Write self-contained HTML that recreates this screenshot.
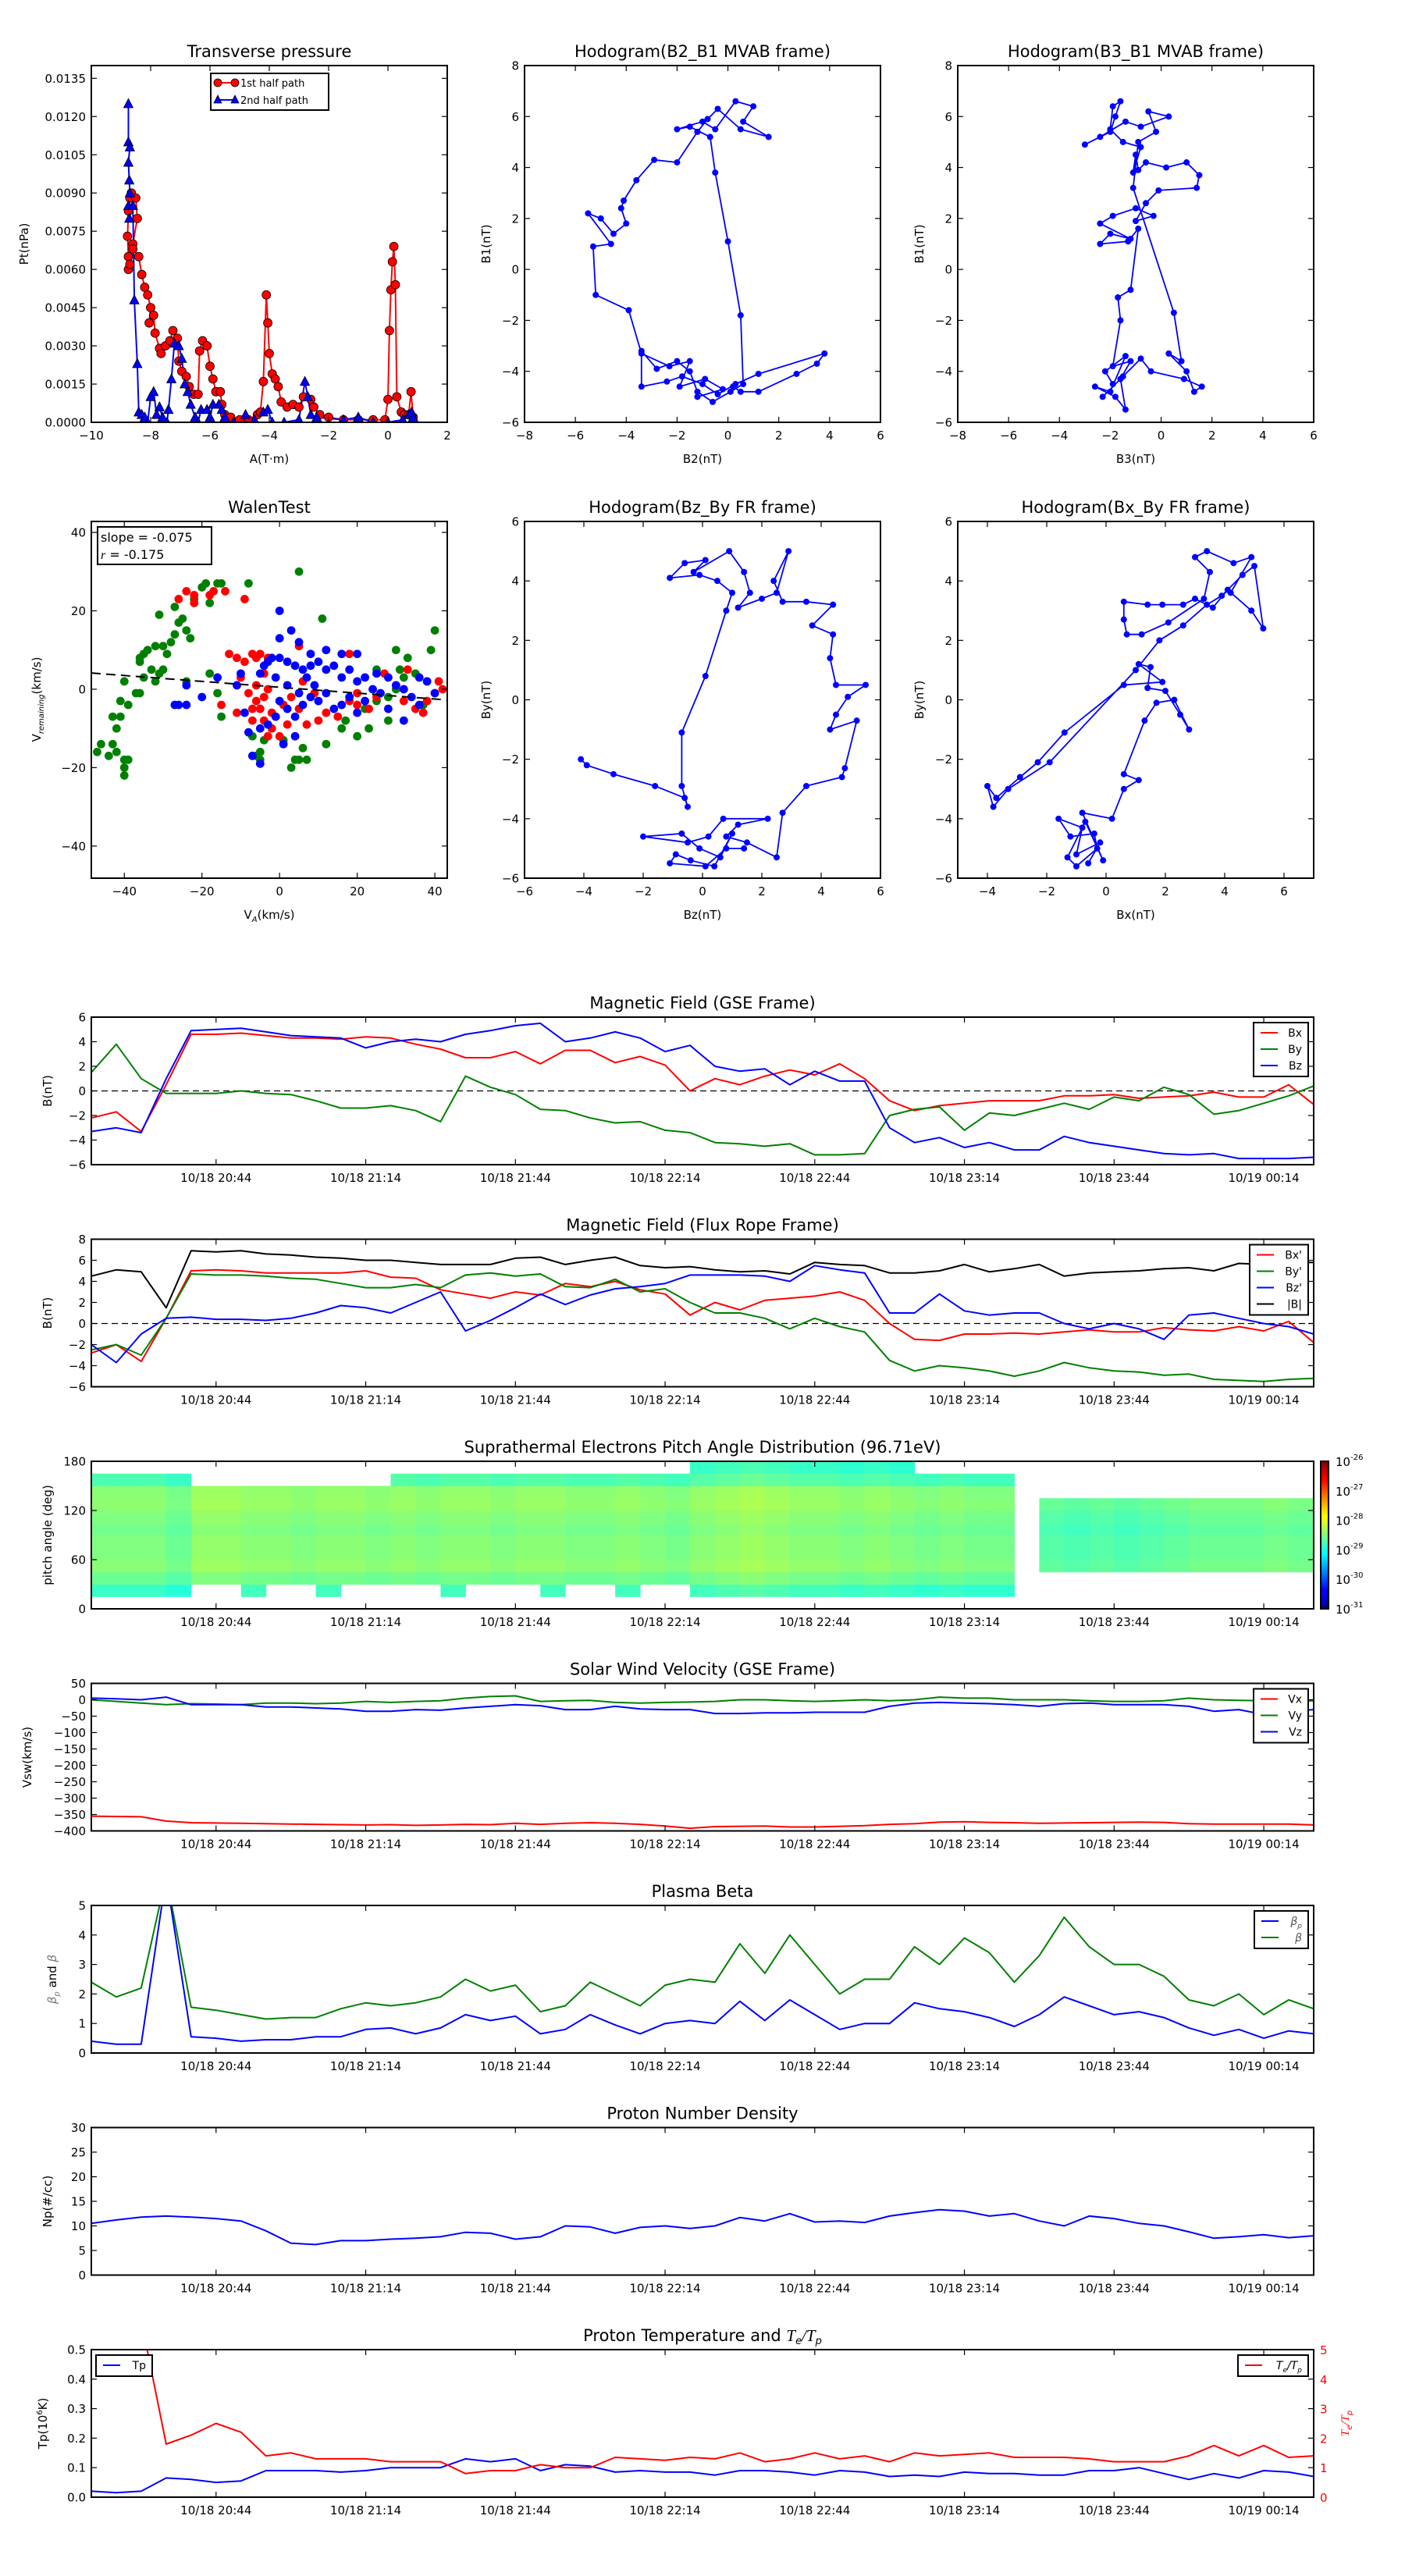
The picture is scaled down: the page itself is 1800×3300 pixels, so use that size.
<!DOCTYPE html>
<html><head><meta charset="utf-8"><title>Flux rope analysis figure</title>
<style>
html,body{margin:0;padding:0;background:#fff;}
svg{display:block;font-family:"DejaVu Sans","Liberation Sans",sans-serif;}
</style></head>
<body>
<svg id="fig" xmlns="http://www.w3.org/2000/svg" width="1800" height="3300" viewBox="0 0 1800 3300">
<defs>
<linearGradient id="jet" x1="0" y1="1" x2="0" y2="0">
<stop offset="0" stop-color="#00007f"/><stop offset="0.11" stop-color="#0000ff"/><stop offset="0.125" stop-color="#0000ff"/>
<stop offset="0.34" stop-color="#00dcff"/><stop offset="0.375" stop-color="#00ffff"/><stop offset="0.5" stop-color="#80ff80"/>
<stop offset="0.625" stop-color="#ffff00"/><stop offset="0.66" stop-color="#ffe000"/><stop offset="0.875" stop-color="#ff0000"/><stop offset="1" stop-color="#7f0000"/>
</linearGradient>
</defs>
<rect x="0" y="0" width="1800" height="3300" fill="#fff"/>
</svg>
<script>
// ---------------- DATA ----------------
const tMin = [0,5,10,15,20,25,30,35,40,45,50,55,60,65,70,75,80,85,90,95,100,105,110,115,120,125,130,135,140,145,150,155,160,165,170,175,180,185,190,195,200,205,210,215,220,225,230,235,240,245];
const timeTicks = [25,55,85,115,145,175,205,235];
const timeTickLabels = ['10/18 20:44','10/18 21:14','10/18 21:44','10/18 22:14','10/18 22:44','10/18 23:14','10/18 23:44','10/19 00:14'];

const gseBx = [-2.2,-1.7,-3.3,0.5,4.6,4.6,4.7,4.5,4.3,4.3,4.2,4.4,4.3,3.8,3.4,2.7,2.7,3.2,2.2,3.3,3.3,2.3,2.8,2.1,0,1.0,0.5,1.2,1.7,1.3,2.2,1.0,-0.8,-1.6,-1.2,-1.0,-0.8,-0.8,-0.8,-0.4,-0.4,-0.3,-0.6,-0.5,-0.4,-0.1,-0.5,-0.5,0.5,-1.1];
const gseBy = [1.5,3.8,1.0,-0.2,-0.2,-0.2,0,-0.2,-0.3,-0.8,-1.4,-1.4,-1.2,-1.6,-2.5,1.2,0.3,-0.3,-1.5,-1.6,-2.2,-2.6,-2.5,-3.2,-3.4,-4.2,-4.3,-4.5,-4.3,-5.2,-5.2,-5.1,-2.0,-1.5,-1.3,-3.2,-1.8,-2.0,-1.5,-1.0,-1.5,-0.5,-0.8,0.3,-0.3,-1.9,-1.6,-1.0,-0.4,0.4];
const gseBz = [-3.3,-3.0,-3.4,1.0,4.9,5.0,5.1,4.8,4.5,4.4,4.3,3.5,4.0,4.2,4.0,4.6,4.9,5.3,5.5,4.0,4.3,4.8,4.3,3.2,3.7,2.0,1.6,1.8,0.5,1.6,0.8,0.8,-3.0,-4.2,-3.8,-4.6,-4.2,-4.8,-4.8,-3.7,-4.2,-4.5,-4.8,-5.1,-5.2,-5.1,-5.5,-5.5,-5.5,-5.4];

const frBx = [-2.8,-2.0,-3.6,0.5,5.0,5.1,5.0,4.8,4.8,4.8,4.8,5.0,4.4,4.3,3.2,2.8,2.4,3.0,2.7,3.8,3.5,4.0,3.2,2.8,0.8,2.0,1.3,2.2,2.4,2.6,3.0,2.2,0.0,-1.5,-1.6,-1.0,-1.0,-0.9,-1.0,-0.8,-0.6,-0.8,-0.8,-0.4,-0.6,-0.7,-0.3,-0.7,0.2,-1.8];
const frBy = [-2.5,-2.0,-3.0,0.5,4.7,4.6,4.6,4.5,4.3,4.2,3.8,3.4,3.4,3.7,3.4,4.6,4.8,4.5,4.7,3.5,3.4,4.2,3.0,3.3,2.0,1.0,1.0,0.5,-0.5,0.5,-0.3,-0.8,-3.5,-4.5,-4.0,-4.2,-4.5,-5.0,-4.5,-3.7,-4.2,-4.5,-4.6,-4.9,-4.8,-5.3,-5.4,-5.5,-5.3,-5.2];
const frBz = [-2.0,-3.7,-1.0,0.5,0.6,0.4,0.4,0.3,0.5,1.0,1.7,1.5,1.0,2.0,3.0,-0.7,0.3,1.5,2.8,1.8,2.7,3.3,3.5,3.8,4.6,4.6,4.6,4.5,4.0,5.5,5.1,4.8,1.0,1.0,2.8,1.2,0.8,1.0,1.0,0.0,-0.5,0.0,-0.5,-1.5,0.8,1.0,0.5,0.0,-0.3,-1.0];
const frBt = [4.5,5.1,4.9,1.5,6.9,6.8,6.9,6.6,6.5,6.3,6.2,6.0,6.0,5.8,5.6,5.6,5.6,6.2,6.3,5.6,6.0,6.3,5.5,5.3,5.4,5.1,4.9,5.0,4.7,5.8,5.6,5.5,4.8,4.8,5.0,5.6,4.9,5.2,5.6,4.5,4.8,4.9,5.0,5.2,5.3,5.0,5.7,5.6,5.8,5.8];

const padTop = [172,172,172,165,150,150,155,150,150,155,150,150,158,158,160,158,158,158,160,158,158,162,158,158,175,175,175,175,175,175,175,175,175,172,172,172,170,0,135,135,135,135,135,135,135,135,135,135,135,135];
const padBot = [8,8,8,15,25,25,22,25,25,22,25,25,25,25,22,25,25,25,22,25,25,20,25,25,10,10,10,8,10,10,8,10,10,12,12,15,15,0,45,45,45,50,45,45,45,50,45,45,45,45];
const padLevel = [-28.5,-28.5,-28.5,-28.6,-28.4,-28.4,-28.45,-28.45,-28.5,-28.45,-28.45,-28.5,-28.45,-28.5,-28.45,-28.45,-28.5,-28.45,-28.45,-28.5,-28.5,-28.45,-28.5,-28.55,-28.45,-28.4,-28.35,-28.4,-28.45,-28.45,-28.5,-28.45,-28.5,-28.55,-28.5,-28.55,-28.55,-28.55,-28.7,-28.75,-28.7,-28.75,-28.7,-28.65,-28.6,-28.6,-28.6,-28.55,-28.6,-28.6];
const padRowOffset = [-0.5,-0.35,-0.1,0.05,0,0,-0.05,0,0.08,0.05,-0.25,-0.4];

const vx = [-355,-356,-357,-370,-375,-376,-377,-378,-379,-380,-381,-382,-381,-383,-382,-380,-381,-377,-380,-377,-375,-377,-380,-385,-392,-387,-386,-385,-388,-388,-386,-384,-380,-378,-373,-372,-374,-375,-377,-376,-375,-374,-373,-374,-378,-379,-379,-379,-379,-382];
const vy = [0,-5,-10,-15,-12,-13,-15,-10,-10,-12,-10,-5,-8,-5,-3,5,10,12,-5,-3,-2,-8,-10,-8,-7,-5,0,0,-3,-5,-3,0,-3,0,8,5,5,0,0,0,-3,-5,-5,-3,5,0,-2,-3,-5,-3];
const vz = [5,3,0,8,-15,-15,-15,-22,-22,-25,-28,-35,-35,-30,-32,-25,-20,-15,-18,-30,-30,-20,-28,-30,-30,-42,-42,-40,-40,-38,-38,-38,-20,-10,-8,-10,-12,-15,-20,-12,-10,-15,-15,-15,-20,-35,-30,-45,-35,-30];

const betaP = [0.4,0.3,0.3,6,0.55,0.5,0.4,0.45,0.45,0.55,0.55,0.8,0.85,0.65,0.85,1.3,1.1,1.25,0.65,0.8,1.3,0.95,0.65,1.0,1.1,1.0,1.75,1.1,1.8,1.3,0.8,1.0,1.0,1.7,1.5,1.4,1.2,0.9,1.3,1.9,1.6,1.3,1.4,1.2,0.85,0.6,0.8,0.5,0.75,0.65];
const betaT = [2.4,1.9,2.2,6,1.55,1.45,1.3,1.15,1.2,1.2,1.5,1.7,1.6,1.7,1.9,2.5,2.1,2.3,1.4,1.6,2.4,2.0,1.6,2.3,2.5,2.4,3.7,2.7,4.0,3.0,2.0,2.5,2.5,3.6,3.0,3.9,3.4,2.4,3.3,4.6,3.6,3.0,3.0,2.6,1.8,1.6,2.0,1.3,1.8,1.5];

const np = [10.5,11.2,11.8,12.0,11.8,11.5,11.0,9.0,6.5,6.2,7.0,7.0,7.3,7.5,7.8,8.7,8.5,7.3,7.8,10.0,9.8,8.5,9.7,10.0,9.5,10.0,11.7,11.0,12.5,10.8,11.0,10.7,12.0,12.7,13.3,13.0,12.0,12.5,11.0,10.0,12.0,11.5,10.5,10.0,8.8,7.5,7.8,8.2,7.6,8.0];

const tp = [0.02,0.015,0.02,0.065,0.06,0.05,0.055,0.09,0.09,0.09,0.085,0.09,0.1,0.1,0.1,0.13,0.12,0.13,0.09,0.11,0.105,0.085,0.09,0.085,0.085,0.075,0.09,0.09,0.085,0.075,0.09,0.085,0.07,0.075,0.07,0.085,0.08,0.08,0.075,0.075,0.09,0.09,0.1,0.08,0.06,0.08,0.065,0.09,0.085,0.07];
const teTp = [null,null,6,1.8,2.1,2.5,2.2,1.4,1.5,1.3,1.3,1.3,1.2,1.2,1.2,0.8,0.9,0.9,1.1,1.0,1.0,1.35,1.3,1.25,1.35,1.3,1.5,1.2,1.3,1.5,1.3,1.4,1.2,1.5,1.4,1.45,1.5,1.35,1.35,1.35,1.3,1.2,1.2,1.2,1.4,1.75,1.4,1.75,1.35,1.4];

const tpFirstHalf = [[-8.75,0.0065],[-8.78,0.0073],[-8.75,0.0083],[-8.7,0.0088],[-8.65,0.009],[-8.5,0.0088],[-8.45,0.008],[-8.6,0.007],[-8.75,0.006],[-8.7,0.0062],[-8.6,0.0068],[-8.4,0.0065],[-8.3,0.0058],[-8.2,0.0053],[-8.1,0.005],[-8.0,0.0045],[-8.05,0.0039],[-7.9,0.0042],[-7.85,0.0035],[-7.7,0.0029],[-7.65,0.0027],[-7.5,0.003],[-7.35,0.0032],[-7.25,0.0036],[-7.1,0.0033],[-7.05,0.0024],[-6.95,0.002],[-6.8,0.0018],[-6.7,0.0014],[-6.55,0.0011],[-6.4,0.0011],[-6.35,0.0028],[-6.25,0.0032],[-6.1,0.003],[-6.0,0.0022],[-5.9,0.0017],[-5.8,0.0012],[-5.65,0.0012],[-5.6,0.0007],[-5.5,0.0003],[-5.3,0.0002],[-5.0,0.0001],[-4.7,0.0001],[-4.4,0.0003],[-4.3,0.0004],[-4.2,0.0016],[-4.1,0.005],[-4.05,0.0039],[-4.0,0.0027],[-3.9,0.0019],[-3.8,0.0017],[-3.7,0.0014],[-3.6,0.0008],[-3.4,0.0006],[-3.2,0.0007],[-3.0,0.0006],[-2.85,0.001],[-2.6,0.0009],[-2.5,0.0006],[-2.3,0.0003],[-2.0,0.0002],[-1.5,0.0001],[-1.0,0.0001],[-0.5,0.0001],[-0.1,0.0001],[0.0,0.0009],[0.05,0.0036],[0.1,0.0052],[0.15,0.0063],[0.2,0.0069],[0.25,0.0054],[0.3,0.001],[0.45,0.0004],[0.55,0.0003],[0.7,0.0003],[0.78,0.0012],[0.85,0.0002]];
const tpSecondHalf = [[-8.75,0.0125],[-8.75,0.011],[-8.7,0.0108],[-8.75,0.0102],[-8.72,0.0095],[-8.7,0.009],[-8.75,0.0085],[-8.72,0.008],[-8.6,0.0085],[-8.55,0.0048],[-8.45,0.0023],[-8.4,0.0004],[-8.3,0.0003],[-8.2,0.0002],[-8.1,0.0],[-8.0,0.001],[-7.9,0.0012],[-7.8,0.0003],[-7.7,0.0006],[-7.6,0.0002],[-7.45,0.0],[-7.4,0.0005],[-7.3,0.0017],[-7.2,0.0031],[-7.05,0.003],[-6.95,0.0025],[-6.85,0.0015],[-6.75,0.0012],[-6.65,0.0007],[-6.5,0.0002],[-6.4,0.0],[-6.3,0.0005],[-6.1,0.0005],[-6.0,0.0002],[-5.9,0.0007],[-5.7,0.0007],[-5.6,0.0005],[-5.5,0.0002],[-5.2,0.0],[-4.8,0.0003],[-4.5,0.0001],[-4.2,0.0004],[-4.05,0.0005],[-3.9,0.0],[-3.5,0.0],[-3.0,0.0001],[-2.8,0.0016],[-2.7,0.001],[-2.6,0.0003],[-2.4,0.0002],[-1.5,0.0001],[-1.0,0.0002],[-0.5,0.0],[0.0,0.0],[0.5,0.0001],[0.7,0.0003],[0.8,0.0004],[0.85,0.0002]];

const hodoB2B1 = [[0.2,-4.6],[0.5,-4.8],[1.2,-4.8],[2.7,-4.1],[3.5,-3.7],[3.8,-3.3],[1.2,-4.1],[0.3,-4.5],[-0.4,-4.9],[-1.0,-4.5],[-1.8,-4.2],[-2.4,-4.4],[-3.4,-4.6],[-3.4,-3.2],[-2.8,-3.9],[-2.0,-3.6],[-1.5,-4.0],[-1.2,-4.8],[-0.6,-5.2],[0.1,-4.8],[0.6,-4.5],[0.5,-1.8],[0.0,1.1],[-0.5,3.8],[-0.7,5.2],[-1.5,5.6],[-2.0,5.5],[-1.0,5.8],[-0.5,5.5],[0.3,6.6],[1.0,6.4],[0.6,5.8],[1.6,5.2],[0.5,5.5],[-0.4,6.3],[-0.8,5.9],[-1.2,5.4],[-2.0,4.2],[-2.9,4.3],[-3.6,3.5],[-4.1,2.7],[-4.2,2.4],[-4.0,1.8],[-4.5,1.4],[-5.0,2.0],[-5.5,2.2],[-4.6,1.0],[-5.3,0.9],[-5.2,-1.0],[-3.9,-1.6],[-3.4,-3.3],[-2.3,-3.8],[-1.5,-3.6],[-1.9,-4.6],[-0.9,-4.3],[-0.2,-4.7],[-1.2,-5.0]];
const hodoB3B1 = [[-1.9,-4.5],[-2.2,-4.0],[-1.4,-3.4],[-2.0,-4.8],[-2.6,-4.6],[-1.8,-5.0],[-1.4,-5.5],[-1.6,-4.3],[-1.2,-3.6],[-1.9,-3.8],[-1.6,-2.0],[-1.7,-1.1],[-1.2,-0.8],[-0.9,1.6],[-1.3,1.1],[-2.4,1.0],[-2.0,1.4],[-1.2,1.2],[-2.4,1.8],[-1.9,2.1],[-1.0,2.4],[-0.3,2.1],[-1.0,1.9],[-0.6,2.6],[-0.1,3.1],[1.4,3.2],[1.5,3.7],[1.0,4.2],[0.2,4.0],[-0.6,4.2],[-0.9,3.9],[-1.0,4.5],[-1.1,3.8],[-0.8,4.8],[-1.5,5.0],[-2.0,5.5],[-1.9,6.4],[-1.6,6.6],[-1.8,6.0],[-2.0,5.4],[-3.0,4.9],[-2.4,5.2],[-1.4,5.8],[-0.8,5.6],[0.3,6.0],[-0.5,6.2],[-0.2,5.4],[-0.9,5.0],[-1.1,3.2],[0.5,-1.7],[0.8,-3.6],[0.3,-3.3],[1.0,-4.0],[1.3,-4.8],[1.6,-4.6],[0.9,-4.3],[-0.4,-4.0],[-0.8,-3.5],[-1.5,-4.2],[-2.3,-5.0]];
const hodoBzBy = [[-4.1,-2.0],[-3.9,-2.2],[-3.0,-2.5],[-1.6,-2.9],[-0.6,-3.3],[-0.5,-3.6],[-0.7,-2.9],[-0.7,-1.1],[0.1,0.8],[0.8,3.0],[1.0,3.6],[0.5,4.0],[-0.1,4.2],[-1.1,4.1],[-0.6,4.6],[0.1,4.7],[-0.3,4.3],[0.9,5.0],[1.4,4.3],[1.6,3.6],[1.2,3.1],[2.0,3.4],[2.5,3.6],[2.9,5.0],[2.4,4.0],[2.7,3.3],[3.5,3.3],[4.4,3.2],[3.7,2.5],[4.4,2.2],[4.3,1.4],[4.5,0.5],[5.5,0.5],[4.9,0.1],[4.5,-0.5],[4.3,-1.0],[5.2,-0.7],[4.8,-2.3],[4.7,-2.6],[3.5,-2.9],[2.7,-3.8],[2.5,-5.3],[1.5,-4.8],[0.8,-4.6],[1.2,-4.2],[2.2,-4.0],[0.7,-4.0],[0.2,-4.6],[-0.5,-4.8],[-2.0,-4.6],[-0.7,-4.5],[-0.1,-5.0],[0.6,-5.3],[1.0,-4.5],[0.4,-5.6],[-0.4,-5.4],[-0.9,-5.2],[-1.1,-5.5],[0.1,-5.6],[0.8,-5.0],[1.4,-5.0]];
const hodoBxBy = [[-0.6,-5.5],[-0.2,-4.8],[-1.0,-5.2],[-0.8,-4.3],[-1.6,-4.0],[-1.2,-4.6],[-0.4,-4.5],[-0.3,-5.0],[-1.0,-5.6],[-1.3,-5.3],[-0.7,-4.1],[-0.1,-5.4],[-0.8,-3.8],[0.2,-4.0],[0.6,-3.0],[1.1,-2.7],[0.6,-2.5],[1.3,-0.7],[1.7,-0.1],[2.3,0.0],[2.8,-1.0],[2.5,-0.5],[2.0,0.3],[1.4,0.4],[1.5,1.1],[1.1,1.2],[1.9,0.6],[0.6,0.5],[-1.4,-1.1],[-2.3,-2.1],[-2.9,-2.6],[-3.7,-3.3],[-4.0,-2.9],[-3.8,-3.6],[-3.3,-3.0],[-1.9,-2.1],[1.0,1.0],[1.8,2.0],[2.6,2.5],[3.4,3.2],[3.9,3.5],[4.6,4.2],[5.0,4.5],[5.3,2.4],[4.9,3.0],[4.1,3.7],[3.6,3.1],[3.0,3.4],[2.6,3.2],[1.9,3.2],[1.4,3.2],[0.6,3.3],[0.6,2.7],[0.7,2.2],[1.2,2.2],[2.1,2.6],[3.3,3.4],[3.5,4.3],[3.0,4.8],[3.4,5.0],[4.3,4.6],[4.9,4.8],[4.2,3.6]];

const walenGreen = [[-47,-16],[-46,-14],[-44,-17],[-43,-14],[-42,-16],[-43,-7],[-42,-10],[-41,-7],[-40,-20],[-40,-18],[-40,-22],[-39,-18],[-41,-3],[-39,-4],[-40,2],[-37,-1],[-36,-1],[-35,3],[-33,5],[-32,2],[-31,4],[-30,5],[-36,8],[-36,7],[-35,9],[-34,10],[-32,11],[-30,11],[-29,9],[-28,12],[-27,14],[-26,17],[-25,18],[-24,15],[-23,13],[-31,19],[-27,21],[-24,2],[-22,23],[-20,26],[-19,27],[-18,22],[-16,27],[-15,27],[-8,27],[-18,4],[-16,-1],[-15,-7],[-7,-12],[-5,-16],[-5,-18],[-4,-13],[1,-13],[3,-20],[5,-18],[7,-18],[12,-14],[16,-10],[20,-12],[22,-5],[25,-3],[28,-2],[30,0],[31,5],[33,8],[35,4],[38,2],[39,10],[40,15],[30,10],[32,3],[37,-4],[23,-10],[17,-8],[-2,-10],[-6,-17],[11,18],[5,30],[6,-15],[4,-18],[25,5],[28,-8]];
const walenRed = [[-26,23],[-24,25],[-22,24],[-22,22],[-18,24],[-17,25],[-14,25],[-9,23],[-13,9],[-11,8],[-9,7],[-7,9],[-6,8],[-5,9],[-3,8],[-10,3],[-8,-1],[-6,-3],[-5,-5],[-4,-2],[-3,0],[-2,-6],[-6,1],[-4,4],[-15,-4],[-11,-6],[-7,-5],[-4,-8],[-2,-10],[0,-12],[2,-9],[5,-5],[7,-9],[10,-8],[12,-6],[15,-7],[18,-3],[20,-1],[23,-5],[25,-2],[27,4],[30,1],[32,-3],[35,-5],[38,-3],[40,-1],[41,2],[42,0],[37,-6],[33,5],[-1,-7],[1,-4],[3,-2],[6,2],[9,-1],[-7,-8],[-3,-12],[18,9],[5,11],[20,-4]];
const walenBlue = [[-27,-4],[-26,-4],[-24,-4],[-24,1],[-20,-2],[-16,3],[-10,4],[-11,1],[-9,-6],[-8,-11],[-7,-17],[-5,-19],[-5,4],[-4,6],[-3,7],[-2,8],[0,8],[2,7],[4,6],[6,5],[8,6],[10,7],[12,5],[14,6],[16,3],[18,5],[20,2],[22,3],[24,0],[26,-1],[28,3],[30,1],[32,0],[34,-2],[36,-4],[38,2],[40,-1],[-5,-10],[-3,-9],[-1,-7],[0,-3],[2,-5],[4,-7],[6,-4],[8,-2],[10,-3],[12,-1],[14,-5],[16,-4],[18,-2],[20,-6],[22,-3],[0,20],[0,13],[3,15],[5,12],[8,9],[12,10],[16,9],[20,9],[25,4],[28,-5],[32,-8],[36,3],[-1,3],[2,1],[5,-1],[7,3],[9,1],[1,-14],[4,-12]];
const walenFit = [-0.075, 0.5];

// ---------------- DRAWING ----------------
const NS = 'http://www.w3.org/2000/svg';
const svg = document.getElementById('fig');
const defs = svg.querySelector('defs');
const MINUS = '\u2212';
function mk(tag, attrs, parent) {
  const e = document.createElementNS(NS, tag);
  for (const k in attrs) e.setAttribute(k, attrs[k]);
  (parent || svg).appendChild(e);
  return e;
}
function fmt(v, d) {
  const s = v.toFixed(d);
  return s.charAt(0) === '-' ? MINUS + s.slice(1) : s;
}
function txt(x, y, s, size, anchor, parent, color) {
  const t = mk('text', {x: x, y: y, 'font-size': size, 'text-anchor': anchor || 'middle', fill: color || '#000'}, parent);
  t.textContent = s;
  return t;
}

function makeAxes(o) {
  const g = mk('g', {});
  
  
  const sx = v => o.x + (v - o.xmin) / (o.xmax - o.xmin) * o.w;
  const sy = v => o.y + o.h - (v - o.ymin) / (o.ymax - o.ymin) * o.h;
  const cp = mk('clipPath', {id: 'clip-' + o.name}, defs);
  mk('rect', {x: o.x, y: o.y, width: o.w, height: o.h}, cp);
  const plot = mk('g', {'clip-path': 'url(#clip-' + o.name + ')'}, g);
  
  
  const deco = mk('g', {}, g);
  const fr = mk('rect', {x: o.x, y: o.y, width: o.w, height: o.h, fill: 'none', stroke: '#000', 'stroke-width': 2}, deco);
  
  
  const xt = mk('g', {}, deco);
  
  
  o.xticks.forEach((v, i) => {
    const px = sx(v);
    mk('line', {x1: px, x2: px, y1: o.y + o.h, y2: o.y + o.h - 7, stroke: '#000', 'stroke-width': 1.2}, xt);
    mk('line', {x1: px, x2: px, y1: o.y, y2: o.y + 7, stroke: '#000', 'stroke-width': 1.2}, xt);
    const lab = txt(px, o.y + o.h + 22, o.xlabels[i], 15, 'middle', xt);
    
    
  });
  const yt = mk('g', {}, deco);
  
  
  o.yticks.forEach((v, i) => {
    const py = sy(v);
    mk('line', {x1: o.x, x2: o.x + 7, y1: py, y2: py, stroke: '#000', 'stroke-width': 1.2}, yt);
    mk('line', {x1: o.x + o.w, x2: o.x + o.w - 7, y1: py, y2: py, stroke: '#000', 'stroke-width': 1.2}, yt);
    const lab = txt(o.x - 7, py + 5.5, o.ylabels[i], 15, 'end', yt);
    
    
  });
  if (o.title) {
    const t = txt(o.x + o.w / 2, o.y - 11, o.title, 21, 'middle', deco);
    
    
  }
  if (o.xtitle) {
    const t = txt(o.x + o.w / 2, o.y + o.h + 52, o.xtitle, 15, 'middle', deco);
    
    
  }
  if (o.ytitle) {
    const t = txt(0, 0, o.ytitle, 15, 'middle', deco);
    t.setAttribute('transform', 'translate(' + o.ytx + ',' + (o.y + o.h / 2) + ') rotate(-90)');
    
    
  }
  return {g: g, plot: plot, deco: deco, sx: sx, sy: sy, o: o};
}

function seriesLine(ax, xs, ys, color, nm, width) {
  let d = '', pen = false;
  for (let i = 0; i < xs.length; i++) {
    if (ys[i] === null) { pen = false; continue; }
    d += (pen ? 'L' : 'M') + ax.sx(xs[i]).toFixed(1) + ',' + ax.sy(ys[i]).toFixed(1);
    pen = true;
  }
  const p = mk('path', {d: d, fill: 'none', stroke: color, 'stroke-width': width || 2, 'stroke-linejoin': 'round'}, ax.plot);
  
  
  return p;
}

function legend(ax, x, y, w, entries, nm) {
  const g = mk('g', {}, ax.deco);
  
  
  const h = entries.length * 21 + 6;
  mk('rect', {x: x, y: y, width: w, height: h, fill: '#fff', stroke: '#000', 'stroke-width': 2}, g);
  entries.forEach((e, i) => {
    const cy = y + 13 + i * 21;
    const row = mk('g', {}, g);
    
    
    mk('line', {x1: x + 9, x2: x + 31, y1: cy, y2: cy, stroke: e.color, 'stroke-width': 2}, row);
    const t = txt(x + w - 8, cy + 5, '', 14, 'end', row);
    if (e.html) { t.innerHTML = e.html; } else { t.textContent = e.label; }
  });
  return g;
}

const W = 456, TLX = 117, TRX = 1683;
const tsTop = i => 1303 + 284.5 * i;
const TSH = 189;
function timeAxes(name, i, ymin, ymax, yticks, ylabels, title, ytitle, ytx) {
  return makeAxes({name: name, x: TLX, y: tsTop(i), w: TRX - TLX, h: TSH, xmin: 0, xmax: 245, ymin: ymin, ymax: ymax,
    xticks: timeTicks, xlabels: timeTickLabels, yticks: yticks, ylabels: ylabels, title: title, ytitle: ytitle, ytx: ytx});
}
const rng = (a, b, s) => { const r = []; for (let v = a; v <= b + 1e-9; v += s) r.push(Math.round(v * 1e6) / 1e6); return r; };

// ---- Transverse pressure ----
const tpTicksY = rng(0, 0.0135, 0.0015);
const axTP = makeAxes({name: 'transverse-pressure-chart', x: TLX, y: 84, w: W, h: 457, xmin: -10, xmax: 2, ymin: 0, ymax: 0.0140,
  xticks: rng(-10, 2, 2), xlabels: rng(-10, 2, 2).map(v => fmt(v, 0)), yticks: tpTicksY, ylabels: tpTicksY.map(v => v.toFixed(4)),
  title: 'Transverse pressure', xtitle: 'A(T\u00b7m)', ytitle: 'Pt(nPa)', ytx: 36});
seriesLine(axTP, tpFirstHalf.map(p => p[0]), tpFirstHalf.map(p => p[1]), '#ff0000', 'first-half-path-line', 2);
seriesLine(axTP, tpSecondHalf.map(p => p[0]), tpSecondHalf.map(p => p[1]), '#0000ff', 'second-half-path-line', 2);
tpFirstHalf.forEach(p => {
  const c = mk('circle', {cx: axTP.sx(p[0]), cy: axTP.sy(p[1]), r: 5.5, fill: '#ff0000', stroke: '#000', 'stroke-width': 0.8}, axTP.plot);
  
  
});
tpSecondHalf.forEach(p => {
  const x = axTP.sx(p[0]), y = axTP.sy(p[1]);
  const t = mk('polygon', {points: x + ',' + (y - 6.5) + ' ' + (x - 6) + ',' + (y + 5) + ' ' + (x + 6) + ',' + (y + 5), fill: '#0000ff', stroke: '#000', 'stroke-width': 0.8}, axTP.plot);
  
  
});
{
  const g = mk('g', {}, axTP.deco);
  
  
  mk('rect', {x: 270, y: 94, width: 151, height: 47, fill: '#fff', stroke: '#000', 'stroke-width': 2}, g);
  mk('line', {x1: 279, x2: 301, y1: 106, y2: 106, stroke: '#f00', 'stroke-width': 2}, g);
  mk('circle', {cx: 279, cy: 106, r: 5, fill: '#f00', stroke: '#000', 'stroke-width': 0.8}, g);
  mk('circle', {cx: 301, cy: 106, r: 5, fill: '#f00', stroke: '#000', 'stroke-width': 0.8}, g);
  const a = txt(308, 111, '1st half path', 13, 'start', g);
  
  
  mk('line', {x1: 279, x2: 301, y1: 128, y2: 128, stroke: '#00f', 'stroke-width': 2}, g);
  mk('polygon', {points: '279,122 274,132 284,132', fill: '#00f', stroke: '#000', 'stroke-width': 0.8}, g);
  mk('polygon', {points: '301,122 296,132 306,132', fill: '#00f', stroke: '#000', 'stroke-width': 0.8}, g);
  const b = txt(308, 133, '2nd half path', 13, 'start', g);
  
  
}

// ---- Hodograms ----
function hodo(name, x, y, xmin, xmax, ymin, ymax, data, title, xt, yt, xtk) {
  const yticks = rng(ymin, ymax, 2);
  const ax = makeAxes({name: name, x: x, y: y, w: W, h: 457, xmin: xmin, xmax: xmax, ymin: ymin, ymax: ymax,
    xticks: xtk, xlabels: xtk.map(v => fmt(v, 0)), yticks: yticks, ylabels: yticks.map(v => fmt(v, 0)),
    title: title, xtitle: xt, ytitle: yt, ytx: x - 44});
  seriesLine(ax, data.map(p => p[0]), data.map(p => p[1]), '#0000ff', name + '-path', 1.8);
  data.forEach(p => {
    const c = mk('circle', {cx: ax.sx(p[0]), cy: ax.sy(p[1]), r: 4, fill: '#0000ff'}, ax.plot);
    
    
  });
  return ax;
}
hodo('hodogram-b2-b1', 672, 84, -8, 6, -6, 8, hodoB2B1, 'Hodogram(B2_B1 MVAB frame)', 'B2(nT)', 'B1(nT)', rng(-8, 6, 2));
hodo('hodogram-b3-b1', 1227, 84, -8, 6, -6, 8, hodoB3B1, 'Hodogram(B3_B1 MVAB frame)', 'B3(nT)', 'B1(nT)', rng(-8, 6, 2));
hodo('hodogram-bz-by', 672, 668, -6, 6, -6, 6, hodoBzBy, 'Hodogram(Bz_By FR frame)', 'Bz(nT)', 'By(nT)', rng(-6, 6, 2));
hodo('hodogram-bx-by', 1227, 668, -5, 7, -6, 6, hodoBxBy, 'Hodogram(Bx_By FR frame)', 'Bx(nT)', 'By(nT)', rng(-4, 6, 2));

// ---- Walen test ----
{
  const tk = [-40, -20, 0, 20, 40];
  const ax = makeAxes({name: 'walen-test-chart', x: TLX, y: 668, w: W, h: 457, xmin: -48.5, xmax: 43.2, ymin: -48.2, ymax: 42.8,
    xticks: tk, xlabels: tk.map(v => fmt(v, 0)), yticks: tk, ylabels: tk.map(v => fmt(v, 0)), title: 'WalenTest'});
  [[walenGreen, '#008000', 'walen-green-point'], [walenRed, '#ff0000', 'walen-red-point'], [walenBlue, '#0000ff', 'walen-blue-point']].forEach(s => {
    s[0].forEach(p => {
      const c = mk('circle', {cx: ax.sx(p[0]), cy: ax.sy(p[1]), r: 5.4, fill: s[1]}, ax.plot);
      
      
    });
  });
  const fl = mk('line', {x1: ax.sx(-48.5), y1: ax.sy(walenFit[0] * -48.5 + walenFit[1]), x2: ax.sx(43.2), y2: ax.sy(walenFit[0] * 43.2 + walenFit[1]),
    stroke: '#000', 'stroke-width': 2, 'stroke-dasharray': '12,7'}, ax.plot);
  
  
  const box = mk('g', {}, ax.deco);
  
  
  mk('rect', {x: 125, y: 675, width: 146, height: 48, fill: '#fff', stroke: '#000', 'stroke-width': 2}, box);
  txt(129, 694, 'slope = -0.075', 16, 'start', box);
  const r = txt(129, 716, '', 16, 'start', box);
  r.innerHTML = '<tspan font-style="italic" font-family="Liberation Serif, serif">r</tspan> = -0.175';
  const xtl = txt(ax.o.x + W / 2, 668 + 457 + 52, '', 15, 'middle', ax.deco);
  xtl.innerHTML = 'V<tspan font-size="10" dy="4" font-style="italic">A</tspan><tspan dy="-4">(km/s)</tspan>';
  
  
  const ytl = txt(0, 0, '', 15, 'middle', ax.deco);
  ytl.innerHTML = 'V<tspan font-size="10" dy="4" font-style="italic">remaining</tspan><tspan dy="-4">(km/s)</tspan>';
  ytl.setAttribute('transform', 'translate(52,' + (668 + 228) + ') rotate(-90)');
  
  
}

// ---- Magnetic field GSE ----
{
  const yt = rng(-6, 6, 2);
  const ax = timeAxes('magnetic-field-gse-chart', 0, -6, 6, yt, yt.map(v => fmt(v, 0)), 'Magnetic Field (GSE Frame)', 'B(nT)', 66);
  const z = mk('line', {x1: TLX, x2: TRX, y1: ax.sy(0), y2: ax.sy(0), stroke: '#000', 'stroke-width': 1.2, 'stroke-dasharray': '8,5'}, ax.plot);
  
  
  seriesLine(ax, tMin, gseBx, '#ff0000', 'gse-bx-line');
  seriesLine(ax, tMin, gseBy, '#008000', 'gse-by-line');
  seriesLine(ax, tMin, gseBz, '#0000ff', 'gse-bz-line');
  legend(ax, 1606, tsTop(0) + 7, 70, [{key: 'bx', color: '#f00', label: 'Bx'}, {key: 'by', color: '#008000', label: 'By'}, {key: 'bz', color: '#00f', label: 'Bz'}], 'gse-legend');
}
// ---- Magnetic field FR ----
{
  const yt = rng(-6, 8, 2);
  const ax = timeAxes('magnetic-field-flux-rope-chart', 1, -6, 8, yt, yt.map(v => fmt(v, 0)), 'Magnetic Field (Flux Rope Frame)', 'B(nT)', 66);
  const z = mk('line', {x1: TLX, x2: TRX, y1: ax.sy(0), y2: ax.sy(0), stroke: '#000', 'stroke-width': 1.2, 'stroke-dasharray': '8,5'}, ax.plot);
  
  
  seriesLine(ax, tMin, frBx, '#ff0000', 'fr-bx-line');
  seriesLine(ax, tMin, frBy, '#008000', 'fr-by-line');
  seriesLine(ax, tMin, frBz, '#0000ff', 'fr-bz-line');
  seriesLine(ax, tMin, frBt, '#000000', 'fr-btotal-line');
  legend(ax, 1601, tsTop(1) + 7, 75, [{key: 'bx', color: '#f00', label: "Bx'"}, {key: 'by', color: '#008000', label: "By'"}, {key: 'bz', color: '#00f', label: "Bz'"}, {key: 'bt', color: '#000', label: '|B|'}], 'fr-legend');
}
// ---- Pitch angle distribution ----
function jet(f) {
  const c = v => Math.round(255 * Math.max(0, Math.min(1, v)));
  return 'rgb(' + c(1.5 - Math.abs(4 * f - 3)) + ',' + c(1.5 - Math.abs(4 * f - 2)) + ',' + c(1.5 - Math.abs(4 * f - 1)) + ')';
}
{
  const yt = [0, 60, 120, 180];
  const ax = timeAxes('pitch-angle-distribution-chart', 2, 0, 180, yt, yt.map(String), 'Suprathermal Electrons Pitch Angle Distribution (96.71eV)', 'pitch angle (deg)', 66);
  const nr = padRowOffset.length, dpa = 180 / nr;
  tMin.forEach((t, c) => {
    for (let r = 0; r < nr; r++) {
      const mid = (r + 0.5) * dpa;
      if (mid > padTop[c] || mid < padBot[c]) continue;
      const lv = padLevel[c] + padRowOffset[r];
      const x0 = ax.sx(t), x1 = ax.sx(Math.min(t + 5, 245));
      const cell = mk('rect', {x: x0, y: ax.sy((r + 1) * dpa), width: x1 - x0 + 0.5, height: ax.sy(r * dpa) - ax.sy((r + 1) * dpa) + 0.5, fill: jet((lv + 31) / 5)}, ax.plot);
      
      
    }
  });
  const cb = mk('g', {});
  
  
  const y0 = tsTop(2);
  mk('rect', {x: 1692, y: y0, width: 10, height: TSH, fill: 'url(#jet)', stroke: '#000', 'stroke-width': 2}, cb);
  for (let k = 0; k <= 5; k++) {
    const py = y0 + TSH - k * TSH / 5;
    const t = txt(1711, py + 6, '', 15, 'start', cb);
    t.innerHTML = '10<tspan font-size="10" dy="-8">-' + (31 - k) + '</tspan>';
    
    
  }
}
// ---- Solar wind velocity ----
{
  const yt = rng(-400, 50, 50);
  const ax = timeAxes('solar-wind-velocity-chart', 3, -400, 50, yt, yt.map(v => fmt(v, 0)), 'Solar Wind Velocity (GSE Frame)', 'Vsw(km/s)', 40);
  seriesLine(ax, tMin, vx, '#ff0000', 'vx-line');
  seriesLine(ax, tMin, vy, '#008000', 'vy-line');
  seriesLine(ax, tMin, vz, '#0000ff', 'vz-line');
  legend(ax, 1606, tsTop(3) + 7, 70, [{key: 'vx', color: '#f00', label: 'Vx'}, {key: 'vy', color: '#008000', label: 'Vy'}, {key: 'vz', color: '#00f', label: 'Vz'}], 'velocity-legend');
}
// ---- Plasma beta ----
{
  const yt = rng(0, 5, 1);
  const ax = timeAxes('plasma-beta-chart', 4, 0, 5, yt, yt.map(String), 'Plasma Beta', '', 72);
  seriesLine(ax, tMin, betaT, '#008000', 'beta-line');
  seriesLine(ax, tMin, betaP, '#0000ff', 'beta-p-line');
  legend(ax, 1607, tsTop(4) + 7, 69, [{key: 'beta-p', color: '#00f', html: '<tspan font-style="italic" fill="#555">\u03b2</tspan><tspan font-size="9" dy="4" font-style="italic" fill="#555">p</tspan>'}, {key: 'beta', color: '#008000', html: '<tspan font-style="italic" fill="#555">\u03b2</tspan>'}], 'beta-legend');
  const t = txt(0, 0, '', 15, 'middle', ax.deco);
  t.innerHTML = '<tspan font-style="italic" fill="#777">\u03b2</tspan><tspan font-size="10" dy="4" font-style="italic" fill="#777">p</tspan><tspan dy="-4"> and </tspan><tspan font-style="italic" fill="#777">\u03b2</tspan>';
  t.setAttribute('transform', 'translate(72,' + (tsTop(4) + TSH / 2) + ') rotate(-90)');
  
  
}
// ---- Proton density ----
{
  const yt = rng(0, 30, 5);
  const ax = timeAxes('proton-density-chart', 5, 0, 30, yt, yt.map(String), 'Proton Number Density', 'Np(#/cc)', 66);
  seriesLine(ax, tMin, np, '#0000ff', 'np-line');
}
// ---- Proton temperature ----
{
  const yt = rng(0, 0.5, 0.1);
  const ax = timeAxes('proton-temperature-chart', 6, 0, 0.5, yt, yt.map(v => v.toFixed(1)), '', '', 60);
  const t = txt(900, tsTop(6) - 11, '', 21, 'middle', ax.deco);
  t.innerHTML = 'Proton Temperature and <tspan font-style="italic" font-family="Liberation Serif, serif">T</tspan><tspan font-size="13" dy="4" font-style="italic">e</tspan><tspan dy="-4" font-style="italic" font-family="Liberation Serif, serif">/T</tspan><tspan font-size="13" dy="4" font-style="italic">p</tspan>';
  
  
  const yl = txt(0, 0, '', 15, 'middle', ax.deco);
  yl.innerHTML = 'Tp(10<tspan font-size="10" dy="-6">6</tspan><tspan dy="6">K)</tspan>';
  yl.setAttribute('transform', 'translate(60,' + (tsTop(6) + TSH / 2) + ') rotate(-90)');
  
  
  const ax2sy = v => tsTop(6) + TSH - v / 5 * TSH;
  const ratioPlot = {sx: ax.sx, sy: ax2sy, plot: ax.plot};
  seriesLine(ax, tMin, tp, '#0000ff', 'tp-line');
  seriesLine(ratioPlot, tMin, teTp, '#ff0000', 'te-tp-ratio-line');
  const ra = mk('g', {}, ax.deco);
  
  
  const rt = [0, 1, 2, 3, 4, 5];
  rt.forEach(v => {
    const l = txt(1691, ax2sy(v) + 6, String(v), 15, 'start', ra, '#ff0000');
    
    
  });
  const rl = txt(0, 0, '', 15, 'middle', ra, '#ff0000');
  rl.innerHTML = '<tspan font-style="italic" font-family="Liberation Serif, serif">T</tspan><tspan font-size="10" dy="4" font-style="italic">e</tspan><tspan dy="-4" font-style="italic" font-family="Liberation Serif, serif">/T</tspan><tspan font-size="10" dy="4" font-style="italic">p</tspan>';
  rl.setAttribute('transform', 'translate(1728,' + (tsTop(6) + TSH / 2) + ') rotate(-90)');
  
  
  legend(ax, 123, tsTop(6) + 7, 72, [{key: 'tp', color: '#00f', label: 'Tp'}], 'tp-legend');
  legend(ax, 1586, tsTop(6) + 7, 90, [{key: 'te-tp', color: '#f00', html: '<tspan font-style="italic">T</tspan><tspan font-size="9" dy="4" font-style="italic">e</tspan><tspan dy="-4" font-style="italic">/T</tspan><tspan font-size="9" dy="4" font-style="italic">p</tspan>'}], 'te-tp-legend');
}
</script>
</body></html>
